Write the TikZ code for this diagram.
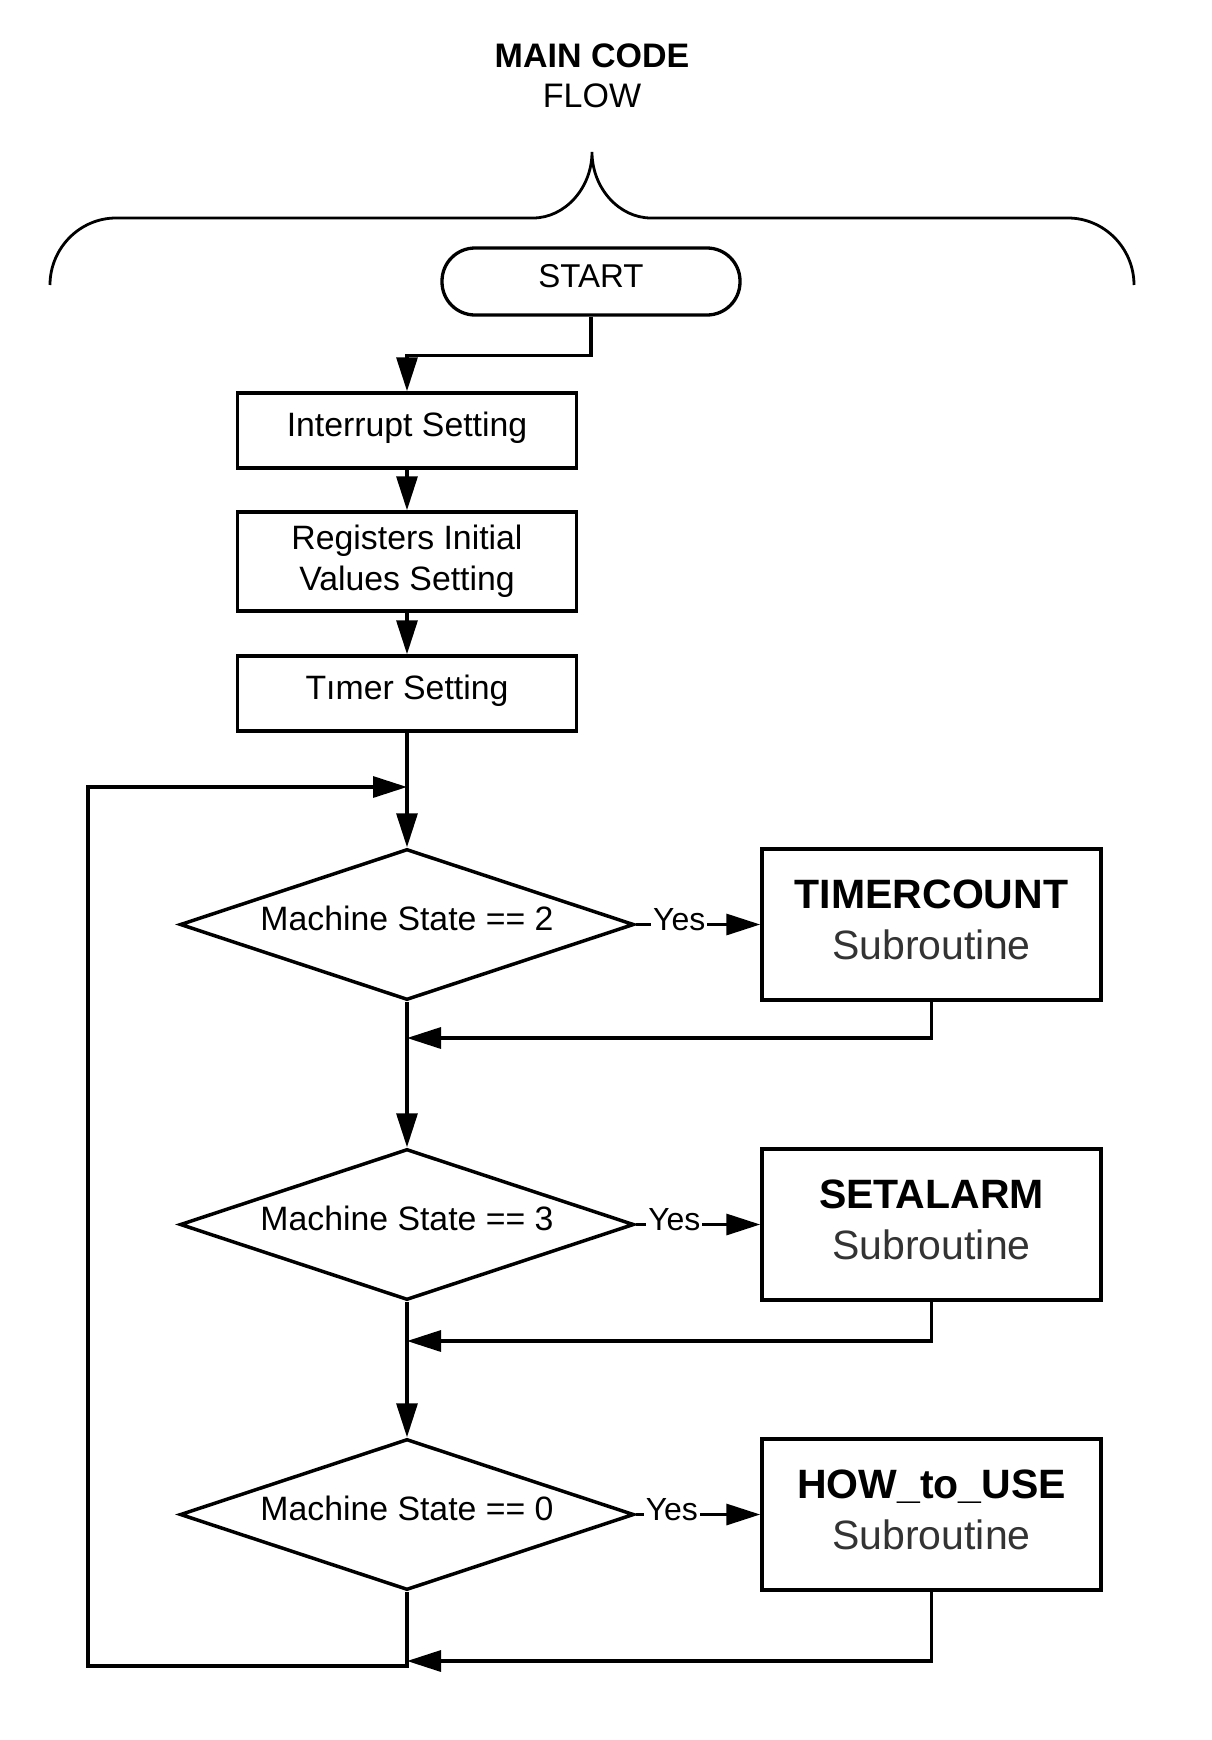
\documentclass[tikz,border=0pt]{standalone}
\usepackage{fontspec}
\setmainfont{Liberation Sans}
\usetikzlibrary{arrows.meta,shapes.geometric}
\definecolor{subgray}{HTML}{333333}
\begin{document}
\begin{tikzpicture}[x=0.5pt,y=-0.5pt,
  every node/.style={inner sep=0pt},
  txt/.style={font=\fontsize{16.9}{20.5}\selectfont},
  tb/.style={text height=0.8em, text depth=0.17em},
  box/.style={draw, line width=1.75pt, minimum width=169.5pt, minimum height=37.5pt, txt, align=center},
  dia/.style={draw, diamond, aspect=3, line width=1.75pt, minimum width=227pt, minimum height=75.5pt, txt, tb},
  sub/.style={draw, line width=1.75pt, minimum width=169.5pt, minimum height=75.5pt, align=center, font=\fontsize{20.5}{25.25}\selectfont},
  arr/.style={line width=1.65pt, -{Triangle[length=17pt,width=10.5pt]}},
  yes/.style={fill=white, inner xsep=1pt, inner ysep=2pt, font=\fontsize{16}{18}\selectfont, tb}
]
\useasboundingbox (0,0) rectangle (1211,1740);

% title
\node[font=\fontsize{17}{20}\selectfont\bfseries, anchor=base] (title1) at (592,67) {MAIN CODE};
\node[font=\fontsize{17}{20}\selectfont, anchor=base] (title2) at (592,107) {FLOW};

% brace
\draw[line width=1.4pt] (50,285) .. controls (50,248) and (80,218) .. (116,218) -- (533,218)
  .. controls (565,218) and (592,188) .. (592,152)
  .. controls (592,188) and (619,218) .. (651,218) -- (1068,218)
  .. controls (1104,218) and (1134,248) .. (1134,285);

% nodes
\node[draw, line width=1.65pt, rounded corners=16.5pt, minimum width=149pt, minimum height=33.5pt,
  font=\fontsize{16.5}{19}\selectfont, tb] (start) at (591,281.5) {START};
\node[box, tb] (int) at (407,430.5) {Interrupt Setting};
\node[box, minimum height=49.5pt] (reg) at (407,561.5) {Registers Initial\\Values Setting};
\node[box, tb] (tim) at (407,693.5) {Tımer Setting};

\node[dia] (d1) at (407,924.5) {Machine State == 2};
\node[dia] (d2) at (407,1224.5) {Machine State == 3};
\node[dia] (d3) at (407,1514.5) {Machine State == 0};

\node[sub] (s1) at (931.5,924.5) {\textbf{TIMERCOUNT}\\\textcolor{subgray}{Subroutine}\rule[-5pt]{0pt}{5pt}};
\node[sub] (s2) at (931.5,1224.5) {\textbf{SETALARM}\\\textcolor{subgray}{Subroutine}\rule[-5pt]{0pt}{5pt}};
\node[sub] (s3) at (931.5,1514.5) {\textbf{HOW\_to\_USE}\\\textcolor{subgray}{Subroutine}\rule[-5pt]{0pt}{5pt}};

% helper coordinates
\coordinate (join) at (407,787);
\coordinate (loopbl) at (88,1666);
\coordinate (r1) at (407,1038);
\coordinate (r2) at (407,1341);
\coordinate (r3) at (407,1661);

% connectors
\draw[arr] (start.south) -- ++(0,39) -| (int.north);
\draw[arr] (int) -- (reg);
\draw[arr] (reg) -- (tim);
\draw[arr] (tim) -- (d1);
\draw[arr] (d1) -- (d2);
\draw[arr] (d2) -- (d3);

\draw[arr] (d1.east) -- node[yes, pos=0.35] {Yes} (s1.west);
\draw[arr] (d2.east) -- node[yes, pos=0.31] {Yes} (s2.west);
\draw[arr] (d3.east) -- node[yes, pos=0.29] {Yes} (s3.west);

\draw[arr] (s1.south) |- (r1);
\draw[arr] (s2.south) |- (r2);
\draw[arr] (s3.south) |- (r3);

\draw[arr] (d3.south) |- (loopbl) |- (join);
\end{tikzpicture}
\end{document}
